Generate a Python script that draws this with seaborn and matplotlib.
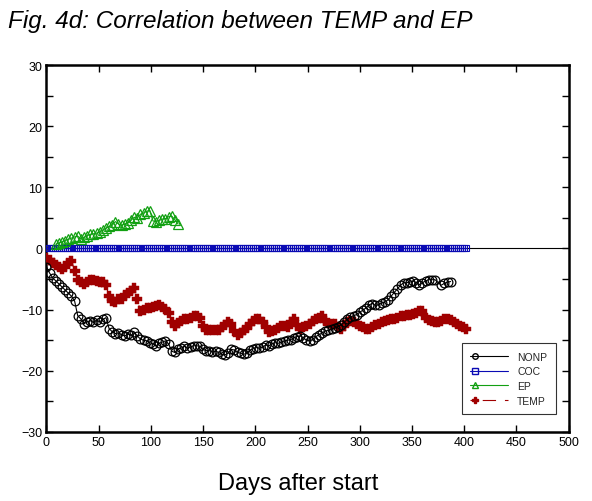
import numpy as np
import pandas as pd
import matplotlib
matplotlib.use("Agg")
import matplotlib.pyplot as plt
import seaborn as sns
from matplotlib.legend_handler import HandlerLine2D
from matplotlib.lines import Line2D

# ---------------- data ----------------
nonp_days = list(range(0, 373, 3)) + [378, 381, 384, 387]
nonp_vals = [-3.0, -4.0, -4.8, -5.3, -5.8, -6.3, -6.8, -7.3, -7.8, -8.6,
             -11.0, -11.5, -12.3, -12.0, -11.8, -12.1, -11.7, -12.0, -11.6, -11.3,
             -13.1, -13.6, -13.9, -13.8, -14.1, -14.3, -14.0, -14.2, -13.7, -14.3,
             -14.8, -15.0, -15.1, -15.4, -15.6, -15.9, -15.5, -15.3, -15.1, -15.6,
             -16.8, -17.0, -16.4, -16.3, -16.0, -16.3, -16.1, -15.9, -15.9, -16.0,
             -16.5, -16.7, -16.7, -16.9, -16.8, -17.0, -17.3, -17.4, -17.1, -16.5,
             -16.6, -17.0, -17.1, -17.3, -17.1, -16.6, -16.4, -16.2, -16.3, -16.1,
             -15.8, -15.9, -15.6, -15.4, -15.5, -15.3, -15.1, -15.0, -14.9, -14.6,
             -14.4, -14.3, -14.6, -15.0, -15.1, -14.9, -14.4, -14.1, -13.8, -13.5,
             -13.4, -13.2, -13.0, -12.8, -12.5, -12.1, -11.6, -11.2, -11.0, -10.8,
             -10.4, -10.1, -9.7, -9.2, -9.0, -9.3, -9.2, -8.9, -8.8, -8.4,
             -7.8, -7.2, -6.6, -6.0, -5.6, -5.6, -5.5, -5.3, -5.6, -5.9,
             -5.6, -5.3, -5.1, -5.1, -5.1,
             -6.0, -5.7, -5.5, -5.4]

coc_days = list(range(0, 403, 2))
coc_vals = [0.0] * len(coc_days)

ep_days = list(range(9, 127, 3))
ep_vals = [0.7, 0.9, 1.1, 1.3, 1.5, 1.7, 1.9, 2.0, 1.6, 1.8,
           2.1, 2.3, 2.4, 2.5, 2.7, 3.0, 3.3, 3.6, 3.8, 4.4,
           4.0, 3.8, 4.0, 4.2, 4.6, 5.1, 5.0, 5.6, 5.8, 6.1,
           6.2, 4.5, 4.4, 4.6, 4.8, 4.9, 5.2, 5.3, 4.7, 4.0]

temp_days = list(range(0, 403, 3))
temp_vals = [-1.6, -1.9, -2.3, -2.7, -3.0, -3.3, -3.0, -2.4, -2.0, -3.6,
             -5.2, -5.5, -5.8, -5.4, -5.2, -5.1, -5.3, -5.4, -5.5, -6.0,
             -7.8, -8.6, -8.8, -8.3, -8.2, -7.6, -7.3, -7.0, -6.4, -8.3,
             -10.2, -10.0, -9.8, -9.8, -9.6, -9.4, -9.3, -9.6, -9.9, -10.6,
             -12.0, -12.6, -12.2, -11.8, -11.5, -11.6, -11.3, -11.1, -11.1, -11.4,
             -12.6, -13.3, -13.4, -13.3, -13.4, -13.3, -12.9, -12.5, -12.1, -12.4,
             -13.5, -14.1, -13.8, -13.4, -13.0, -12.4, -11.9, -11.5, -11.6, -12.0,
             -12.8, -13.6, -13.5, -13.3, -13.0, -12.6, -12.6, -12.8, -12.0, -11.6,
             -12.5, -13.2, -12.9, -12.6, -12.3, -11.8, -11.5, -11.3, -11.1, -11.8,
             -12.2, -12.3, -12.4, -12.8, -13.2, -12.6, -12.1, -11.9, -12.1, -12.4,
             -12.6, -12.8, -13.1, -13.2, -12.8, -12.5, -12.3, -12.1, -11.9, -11.7,
             -11.5, -11.5, -11.3, -11.0, -11.0, -10.9, -10.8, -10.7, -10.5, -10.3,
             -10.2, -11.3, -11.7, -11.8, -12.0, -12.1, -11.9, -11.6, -11.5, -11.7,
             -12.0, -12.3, -12.6, -12.9, -13.1]

series_names = ["NONP", "COC", "EP", "TEMP"]
x_ticks = [0, 50, 100, 150, 200, 250, 300, 350, 400, 450, 500]
y_ticks = [-30, -20, -10, 0, 10, 20, 30]

title_text = "Fig. 4d: Correlation between TEMP and EP"
xlabel_text = "Days after start"

# ---------------- plot ----------------
sns.set_theme(style="white")
plt.rcParams["font.family"] = ["Liberation Sans", "DejaVu Sans"]
plt.rcParams["axes.unicode_minus"] = True

fig = plt.figure(figsize=(5.92, 5.02), dpi=100)
ax = fig.add_axes([0.0784, 0.1375, 0.8822, 0.731])

black = "#000000"
blue = "#0a0ab4"
green = "#12a012"
red = "#a00000"

ax.axhline(0, color="black", lw=0.8, zorder=1)

sns.lineplot(x=coc_days, y=coc_vals, ax=ax, sort=False, estimator=None,
             color=blue, lw=1.0, marker="s", markersize=4.4,
             markerfacecolor="none", markeredgecolor=blue, markeredgewidth=0.8, zorder=3)
sns.lineplot(x=ep_days, y=ep_vals, ax=ax, sort=False, estimator=None,
             color=green, lw=0.8, marker="^", markersize=7,
             markerfacecolor="none", markeredgecolor=green, markeredgewidth=0.9, zorder=3)
sns.lineplot(x=temp_days, y=temp_vals, ax=ax, sort=False, estimator=None,
             color=red, lw=0.8, linestyle="--", marker="P", markersize=7,
             markerfacecolor=red, markeredgecolor=red, markeredgewidth=0.3, zorder=3)
sns.lineplot(x=nonp_days, y=nonp_vals, ax=ax, sort=False, estimator=None,
             color=black, lw=0.8, marker="o", markersize=6.3,
             markerfacecolor="none", markeredgecolor=black, markeredgewidth=0.9, zorder=4)

ax.set_xlim(0, 500)
ax.set_ylim(-30, 30)
ax.set_xticks(x_ticks)
ax.set_yticks(y_ticks)
ax.set_yticks(list(range(-25, 30, 10)), minor=True)
ax.tick_params(axis="both", which="both", direction="in", top=True, right=True,
               bottom=True, left=True, labelsize=9, colors="black", pad=3)
ax.tick_params(which="major", length=5, width=1)
ax.tick_params(which="minor", length=5, width=1)
for s in ax.spines.values():
    s.set_color("black")
    s.set_linewidth(1.8)
ax.set_xlabel("")
ax.set_ylabel("")
ax.grid(False)


class LeftMarkerHandler(HandlerLine2D):
    def create_artists(self, legend, orig_handle, xdescent, ydescent,
                       width, height, fontsize, trans):
        x0 = -xdescent
        x1 = -xdescent + width
        y = (height - ydescent) / 2
        line = Line2D([x0, x1], [y, y])
        self.update_prop(line, orig_handle, legend)
        line.set_marker("")
        line.set_drawstyle("default")
        mk = Line2D([x0 + 0.12 * width], [y])
        self.update_prop(mk, orig_handle, legend)
        mk.set_linestyle("None")
        line.set_transform(trans)
        mk.set_transform(trans)
        return [line, mk]


handles = [
    Line2D([], [], color=black, lw=0.8, marker="o", markersize=4,
           markerfacecolor="none", markeredgecolor=black),
    Line2D([], [], color=blue, lw=0.8, marker="s", markersize=4,
           markerfacecolor="none", markeredgecolor=blue),
    Line2D([], [], color=green, lw=0.8, marker="^", markersize=4,
           markerfacecolor="none", markeredgecolor=green),
    Line2D([], [], color=red, lw=0.8, linestyle=(0, (3, 8, 9, 0)), marker="P",
           markersize=5, markerfacecolor=red, markeredgecolor=red),
]
leg = ax.legend(handles, series_names, loc="lower right",
                bbox_to_anchor=(0.985, 0.035), fontsize=7.5, frameon=True,
                fancybox=False, edgecolor="black", handlelength=3.6,
                handletextpad=0.9, labelspacing=0.45, borderpad=0.8,
                numpoints=1, handler_map={Line2D: LeftMarkerHandler()})
leg.get_frame().set_linewidth(0.8)

fig.text(0.013, 0.958, title_text, fontsize=17.5, style="italic",
         ha="left", va="center", color="black")
fig.text(0.503, 0.036, xlabel_text, fontsize=17, ha="center", va="center",
         color="black")

fig.savefig("out.png", dpi=100)
